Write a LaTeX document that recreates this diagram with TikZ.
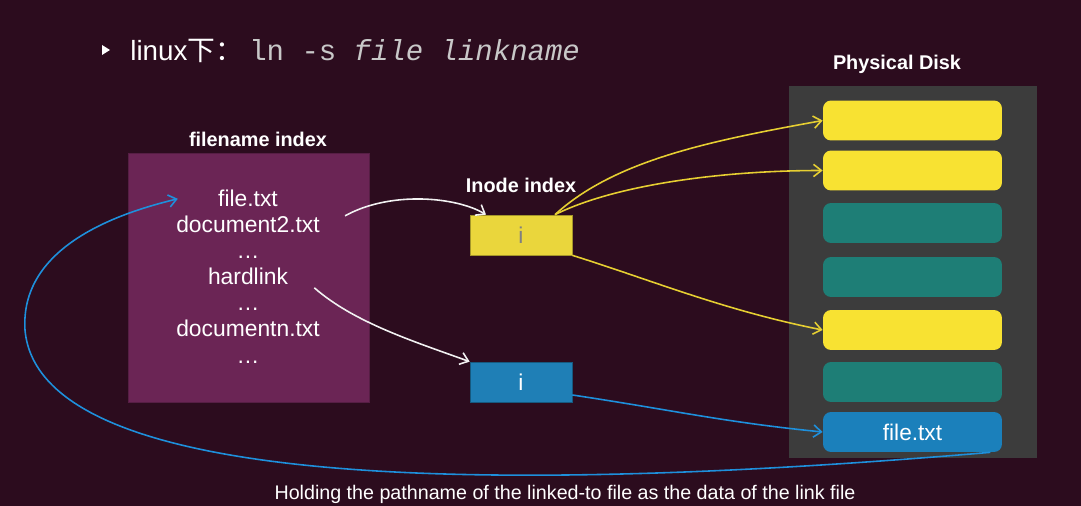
\documentclass[tikz,border=0pt]{standalone}
\usepackage{fontspec}
\setmainfont{Liberation Sans}
\setmonofont{Liberation Mono}
\newfontfamily\cjkfont{Noto Sans CJK SC}
\usetikzlibrary{arrows.meta}
\definecolor{bgpurple}{HTML}{2C0C1E}
\definecolor{fnpurple}{HTML}{6B2555}
\definecolor{inyellow}{HTML}{EAD63C}
\definecolor{inblue}{HTML}{1F7FB6}
\definecolor{diskgray}{HTML}{3C3C3C}
\definecolor{blkyellow}{HTML}{F8E232}
\definecolor{blkteal}{HTML}{1E7E76}
\definecolor{blkblue}{HTML}{1B80BB}
\definecolor{lnyellow}{HTML}{E6CF32}
\definecolor{lnblue}{HTML}{1E90DC}
\definecolor{monogray}{HTML}{C8C8C8}
\tikzset{
  heading/.style={text=white,font=\bfseries\fontsize{11.3}{13}\selectfont},
  fnline/.style={text=white,inner sep=0pt,font=\fontsize{13}{15}\selectfont},
  inodebox/.style={draw=#1!70!black,fill=#1,minimum width=2.04cm,minimum height=0.8cm,font=\fontsize{13}{15}\selectfont},
  blockbox/.style={fill=#1,rounded corners=0.16cm,minimum width=3.58cm,minimum height=0.8cm,text=white,font=\fontsize{12.9}{15}\selectfont},
  link/.style={line width=0.9pt,->},
}
\begin{document}
\begin{tikzpicture}[x=0.02cm,y=-0.02cm,>={Straight Barb[length=4.5pt,width=7pt]}]
    \fill[bgpurple] (0,0) rectangle (1081,506);
    \useasboundingbox (0,0) rectangle (1081,506);
    % title
    \fill[white] (102,45) -- (110,50) -- (102,55) -- cycle;
    \node[anchor=base west,inner sep=0,text=white,font=\fontsize{15.8}{18}\selectfont] (ttl) at (130,61) {linux{\cjkfont 下：}};
    \node[anchor=base west,inner sep=0,text=monogray,font=\ttfamily\fontsize{16.5}{18}\selectfont] (cmd) at (249,61) {ln -s \textit{file linkname}};
    % filename index
    \node[fill=fnpurple,draw=fnpurple!80!black,minimum width=4.82cm,minimum height=4.98cm] (fnbox) at (248.5,277.5) {};
    \node[heading] (fnhd) at (258,139) {filename index};
    \foreach \nm [count=\k] in {file.txt,document2.txt,{\ldots},hardlink,{\ldots},documentn.txt,{\ldots}}
        {\node[fnline,anchor=base] (fn\k) at (248,207+26*\k-26) {\nm};}
    % inode index
    \node[heading] (inhd) at (521,185) {Inode index};
    \node[inodebox=inyellow,text=gray] (ino1) at (521,235) {i};
    \node[inodebox=inblue,text=white] (ino2) at (521,382) {i};
    % physical disk
    \node[fill=diskgray,minimum width=4.96cm,minimum height=7.44cm] (disk) at (913,272) {};
    \node[heading] (dkhd) at (897,64) {Physical Disk};
    \node[blockbox=blkyellow] (blk1) at (912.5,120.5) {};
    \node[blockbox=blkyellow] (blk2) at (912.5,170.5) {};
    \node[blockbox=blkteal] (blk3) at (912.5,223) {};
    \node[blockbox=blkteal] (blk4) at (912.5,277) {};
    \node[blockbox=blkyellow] (blk5) at (912.5,330) {};
    \node[blockbox=blkteal] (blk6) at (912.5,382) {};
    \node[blockbox=blkblue] (blk7) at (912.5,432) {file.txt};
    % links
    \draw[link,white!90!gray] ([xshift=0.5cm,yshift=0.18cm]fn2.east) .. controls +(45,-25) and +(-30,-18) .. ([xshift=-0.7cm]ino1.north);
    \draw[link,white!90!gray] ([xshift=0.52cm,yshift=-0.22cm]fn4.east) .. controls +(40,35) and +(-55,-20) .. (ino2.north west);
    \draw[link,lnyellow] ([xshift=0.68cm]ino1.north) .. controls +(60,-55) and +(-110,20) .. (blk1.west);
    \draw[link,lnyellow] ([xshift=0.68cm]ino1.north) .. controls +(60,-30) and +(-100,0) .. (blk2.west);
    \draw[link,lnyellow] (ino1.south east) .. controls +(80,25) and +(-100,-20) .. (blk5.west);
    \draw[link,lnblue] ([yshift=-0.26cm]ino2.east) .. controls +(100,15) and +(-100,-10) .. (blk7.west);
    \coordinate (bend) at (25,330);
    \draw[link,lnblue] ([xshift=-0.24cm]blk7.south east) .. controls (550,490) and (40,500) .. (bend)
        .. controls (20,250) and (110,215) .. ([xshift=-0.8cm]fn1.west);
    \node[text=white,font=\fontsize{11.2}{13}\selectfont] (cap) at (565,494) {Holding the pathname of the linked-to file as the data of the link file};
\end{tikzpicture}
\end{document}
